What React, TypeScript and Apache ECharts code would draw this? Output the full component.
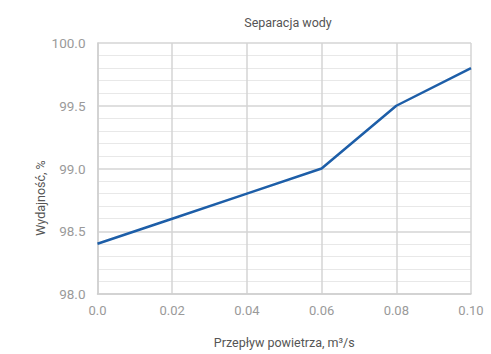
import React, { useEffect, useRef } from "react";
import * as echarts from "echarts";

const title = "Separacja wody";
const xName = "Przepływ powietrza, m³/s";
const yName = "Wydajność, %";
const flow = [0, 0.02, 0.04, 0.06, 0.08, 0.1];
const efficiency = [98.4, 98.6, 98.8, 99.0, 99.5, 99.8];

export default function App() {
  const ref = useRef<HTMLDivElement>(null);
  useEffect(() => {
    const chart = echarts.init(ref.current!, null, { renderer: "svg" });
    const font = "Roboto, 'Noto Sans', sans-serif";
    chart.setOption({
      animation: false,
      backgroundColor: "#ffffff",
      title: {
        text: title,
        left: 283,
        top: 11,
        textAlign: "center",
        textStyle: { fontSize: 12.5, fontWeight: "normal", color: "#555", fontFamily: font },
      },
      grid: { left: 97.5, right: 20, top: 43, bottom: 51, containLabel: false },
      graphic: [
        {
          type: "text",
          x: 40,
          y: 198,
          rotation: Math.PI / 2,
          style: {
            text: yName,
            fill: "#555",
            font: `12.5px ${font}`,
            textAlign: "center",
            textVerticalAlign: "middle",
          },
        },
      ],
      xAxis: {
        type: "value",
        min: 0,
        max: 0.1,
        interval: 0.02,
        name: xName,
        nameLocation: "middle",
        nameGap: 42,
        nameTextStyle: { fontSize: 12.5, color: "#555", fontFamily: font },
        axisLine: { show: true, lineStyle: { color: "#cfcfcf", width: 1.5 } },
        axisTick: { show: false },
        axisLabel: {
          margin: 10,
          fontSize: 13,
          color: "#9a9a9a",
          fontFamily: font,
          formatter: (v: number) => (v === 0 ? "0.0" : v.toFixed(2)),
        },
        splitLine: { show: true, lineStyle: { color: "#d4d4d4", width: 1.5 } },
      },
      yAxis: {
        type: "value",
        min: 98,
        max: 100,
        interval: 0.5,
        axisLine: { show: true, lineStyle: { color: "#cfcfcf", width: 1.5 } },
        axisTick: { show: false },
        axisLabel: {
          margin: 12,
          fontSize: 13.5,
          color: "#9a9a9a",
          fontFamily: font,
          formatter: (v: number) => v.toFixed(1),
        },
        splitLine: { show: true, lineStyle: { color: "#d4d4d4", width: 1.5 } },
        minorTick: { show: false, splitNumber: 5 },
        minorSplitLine: { show: true, lineStyle: { color: "#e8e8e8", width: 1 } },
      },
      series: [
        {
          type: "line",
          data: flow.map((x, i) => [x, efficiency[i]]),
          symbol: "none",
          lineStyle: { color: "#1d5ea8", width: 2.5 },
        },
      ],
    });
    return () => chart.dispose();
  }, []);
  return <div ref={ref} style={{ width: 491, height: 354, position: "absolute", left: 0, top: 0 }} />;
}
